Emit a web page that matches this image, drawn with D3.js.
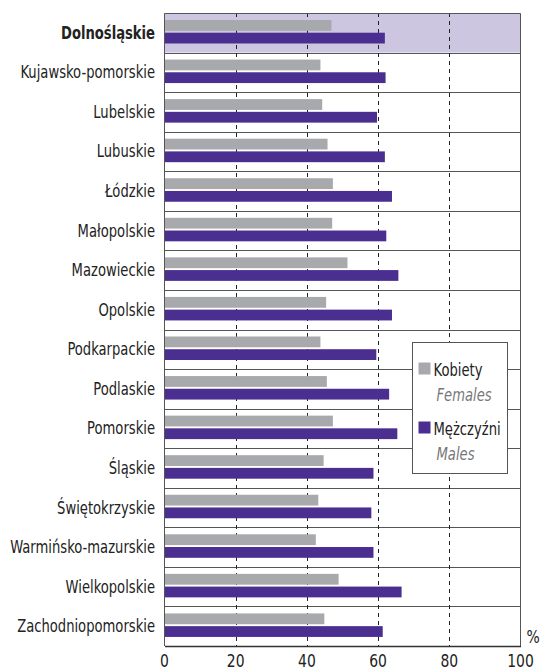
<!DOCTYPE html>
<html>
<head>
<meta charset="utf-8">
<script src="https://cdn.jsdelivr.net/npm/d3@7"></script>
<style>
  body { margin: 0; background: #fff; }
  svg { display: block; font-family: "DejaVu Sans Condensed", "Liberation Sans Narrow", sans-serif; }
</style>
</head>
<body>
<svg id="chart" width="540" height="671"></svg>
<script>
// regions (voivodeships), top to bottom
const regions = ['Dolnośląskie', 'Kujawsko-pomorskie', 'Lubelskie', 'Lubuskie', 'Łódzkie', 'Małopolskie',
  'Mazowieckie', 'Opolskie', 'Podkarpackie', 'Podlaskie', 'Pomorskie', 'Śląskie', 'Świętokrzyskie',
  'Warmińsko-mazurskie', 'Wielkopolskie', 'Zachodniopomorskie'];
// series values, %
const females = [46.9, 43.8, 44.3, 45.8, 47.3, 47.1, 51.4, 45.4, 43.8, 45.6, 47.3, 44.7, 43.2, 42.5, 48.9, 44.9];
const males = [61.9, 62.1, 59.7, 61.9, 63.9, 62.3, 65.7, 63.9, 59.5, 63.1, 65.4, 58.7, 58.1, 58.7, 66.6, 61.3];
const xTicks = [0, 20, 40, 60, 80, 100];
const highlighted = 'Dolnośląskie';

const svg = d3.select('#chart');
const plotLeft = 164.5, plotRight = 520.5, plotTop = 13, plotBottom = 646;
const squeeze = 0.86; // condensed look of the original typeface

const x = d3.scaleLinear().domain([0, 100]).range([plotLeft, plotRight]);
const y = d3.scaleBand().domain(regions).range([plotTop, plotBottom]);
const sub = d3.scaleBand().domain(['f', 'm']).range([7, 30.5]).paddingInner(0.15);

const colors = { f: '#a7a9ac', m: '#4a2f91' };

// highlight row
svg.append('rect')
  .attr('x', x(0)).attr('y', y(highlighted))
  .attr('width', x(100) - x(0)).attr('height', y.bandwidth())
  .attr('fill', '#cdc6e1');

// row separators
svg.append('g').selectAll('line')
  .data(regions.slice(1))
  .join('line')
  .attr('x1', x(0)).attr('x2', x(100))
  .attr('y1', d => Math.round(y(d)) + 0.5).attr('y2', d => Math.round(y(d)) + 0.5)
  .attr('stroke', '#555').attr('stroke-width', 1);

// dashed grid
svg.append('g').selectAll('line')
  .data(xTicks.filter(t => t > 0 && t < 100))
  .join('line')
  .attr('x1', d => Math.round(x(d)) + 0.5).attr('x2', d => Math.round(x(d)) + 0.5)
  .attr('y1', plotTop).attr('y2', plotBottom)
  .attr('stroke', '#222').attr('stroke-width', 1).attr('stroke-dasharray', '4,4');

// bars
const rows = svg.append('g').selectAll('g')
  .data(regions.map((r, i) => ({ r, f: females[i], m: males[i] })))
  .join('g')
  .attr('transform', d => `translate(0,${y(d.r)})`);

rows.selectAll('rect')
  .data(d => ['f', 'm'].map(k => ({ k, v: d[k] })))
  .join('rect')
  .attr('x', x(0))
  .attr('y', d => sub(d.k))
  .attr('width', d => x(d.v) - x(0))
  .attr('height', sub.bandwidth())
  .attr('fill', d => colors[d.k]);

// frame
svg.append('path')
  .attr('d', `M${x(0)},${plotBottom}V${plotTop + 0.5}H${x(100)}V${plotBottom}`)
  .attr('fill', 'none').attr('stroke', '#555').attr('stroke-width', 1);

// x axis
const xAxis = svg.append('g')
  .attr('transform', `translate(0,${plotBottom})`)
  .call(d3.axisBottom(x).tickValues(xTicks).tickSize(0).tickPadding(8));
xAxis.select('.domain').attr('stroke', '#333').attr('stroke-width', 1.5);
xAxis.selectAll('text')
  .attr('font-family', '"DejaVu Sans Condensed", sans-serif')
  .attr('font-size', 18).attr('fill', '#222').attr('dy', '0.75em')
  .attr('transform', `scale(${squeeze},1)`)
  .attr('x', 0);
xAxis.selectAll('.tick')
  .attr('transform', d => `translate(${x(d)},0)`);

svg.append('text')
  .attr('transform', `translate(533,643) scale(${squeeze},1)`)
  .attr('text-anchor', 'middle')
  .attr('font-size', 18).attr('fill', '#222')
  .text('%');

// row labels
svg.append('g').selectAll('text')
  .data(regions)
  .join('text')
  .attr('transform', d => `translate(155,${y(d) + y.bandwidth() / 2 + 6}) scale(${squeeze},1)`)
  .attr('text-anchor', 'end')
  .attr('font-size', 17)
  .attr('font-weight', d => d === highlighted ? 'bold' : 'normal')
  .attr('fill', '#222')
  .text(d => d);

// legend
const legendItems = [
  { k: 'f', pl: 'Kobiety', en: 'Females' },
  { k: 'm', pl: 'Mężczyźni', en: 'Males' }
];
const legend = svg.append('g').attr('transform', 'translate(412.5,342.5)');
legend.append('rect')
  .attr('width', 95).attr('height', 131)
  .attr('fill', '#fff').attr('stroke', '#555').attr('stroke-width', 1);
const li = legend.selectAll('g.item')
  .data(legendItems)
  .join('g')
  .attr('class', 'item')
  .attr('transform', (d, i) => `translate(0,${20 + i * 59})`);
li.append('rect')
  .attr('x', 6).attr('y', 0).attr('width', 12).attr('height', 12)
  .attr('fill', d => colors[d.k]);
li.append('text')
  .attr('transform', `translate(21,13) scale(${squeeze},1)`)
  .attr('font-size', 17).attr('fill', '#222')
  .text(d => d.pl);
li.append('text')
  .attr('transform', `translate(24,38) scale(${squeeze},1)`)
  .attr('font-size', 17).attr('font-style', 'italic').attr('fill', '#777')
  .text(d => d.en);
</script>
</body>
</html>
